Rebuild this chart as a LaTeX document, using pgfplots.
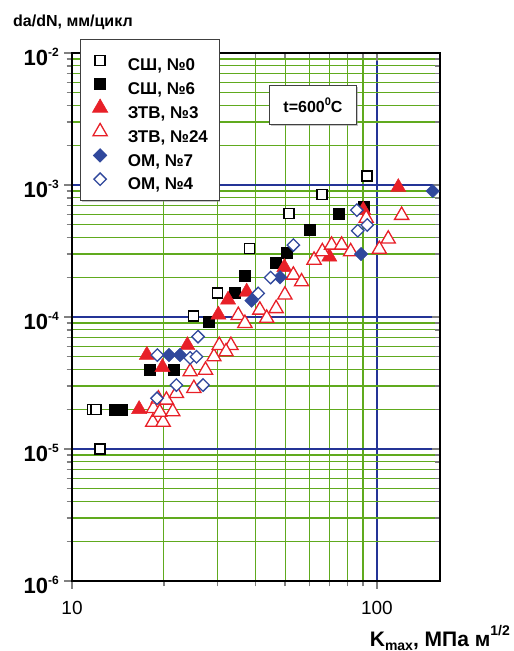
\documentclass[border=0pt]{standalone}
\usepackage{pgfplots}
\pgfplotsset{compat=1.18}
\usepackage{pgfplotstable}
\usepackage{fontspec}
\setmainfont{Liberation Sans}
\usetikzlibrary{shadows}
\definecolor{gridgreen}{RGB}{96,170,30}
\definecolor{gridblue}{RGB}{36,52,150}
\definecolor{mred}{RGB}{232,32,40}
\definecolor{mblue}{RGB}{48,72,156}
\newcommand{\ylab}[1]{\fontsize{22}{22}\selectfont\bfseries 10\raisebox{9pt}{\fontsize{12}{12}\selectfont #1}}
\pgfplotsset{
  every axis grid/.style={line width=1.2pt},
  every major grid/.style={color=gridblue},
  every minor grid/.style={color=gridgreen},
}

\pgfplotstableread{
K v
11.7 2.0e-5
12.0 2.0e-5
12.35 1.0e-5
25.0 1.02e-4
30.0 1.52e-4
38.3 3.3e-4
51.5 6.1e-4
66.0 8.5e-4
92.7 1.17e-3
}\sqA
\pgfplotstableread{
K v
13.8 2.0e-5
14.6 2.0e-5
18.0 4.0e-5
21.6 4.0e-5
28.0 9.2e-5
34.2 1.53e-4
36.9 2.05e-4
46.5 2.58e-4
50.6 3.07e-4
60.3 4.56e-4
74.7 6.1e-4
90.6 6.8e-4
}\sqB
\pgfplotstableread{
K v
16.6 2.0e-5
17.6 5.15e-5
19.8 4.16e-5
23.9 6.1e-5
30.2 1.04e-4
32.5 1.35e-4
37.4 1.55e-4
49.7 2.38e-4
69.8 2.86e-4
90.2 6.45e-4
117.5 9.6e-4
}\trA
\pgfplotstableread{
K v
18.4 1.6e-5
19.9 1.6e-5
18.5 2.03e-5
19.4 1.9e-5
19.2 2.4e-5
20.4 2.35e-5
21.4 1.92e-5
22.0 2.64e-5
24.4 3.85e-5
25.1 2.88e-5
27.4 3.96e-5
29.2 5.0e-5
30.4 6.1e-5
33.2 6.1e-5
32.0 5.46e-5
35.1 1.03e-4
36.9 8.96e-5
41.3 1.13e-4
43.5 9.8e-5
46.7 1.16e-4
49.9 1.47e-4
53.2 2.08e-4
56.6 1.85e-4
62.2 2.7e-4
66.2 3.13e-4
71.0 3.51e-4
76.6 3.51e-4
82.0 3.13e-4
92.2 5.6e-4
101.8 3.26e-4
108.9 3.9e-4
120.5 5.9e-4
}\trB
\pgfplotstableread{
K v
20.8 5.15e-5
22.6 5.15e-5
38.8 1.33e-4
48.1 2.0e-4
88.7 3.0e-4
152.3 9.0e-4
}\dmA
\pgfplotstableread{
K v
19.0 2.42e-5
19.05 5.15e-5
22.0 3.05e-5
26.9 3.05e-5
24.4 4.9e-5
25.6 5.0e-5
25.9 7.1e-5
40.8 1.51e-4
44.8 1.99e-4
53.2 3.51e-4
85.9 6.45e-4
86.5 4.5e-4
92.9 4.98e-4
}\dmB

\begin{document}
\begin{tikzpicture}
\path[use as bounding box] (-72pt,-70pt) rectangle (442pt,581pt);
% outside ticks and labels on bottom and left
\begin{axis}[
  at={(0pt,0pt)}, anchor=south west,
  scale only axis, width=368pt, height=528pt,
  xmode=log, ymode=log,
  xmin=10, xmax=161, ymin=1e-6, ymax=1e-2,
  xtick={10,100},
  minor xtick={20,30,40,50,60,70,80,90},
  ytick={1e-6,1e-5,1e-4,1e-3,1e-2},
  minor ytick={2e-6,3e-6,4e-6,5e-6,6e-6,7e-6,8e-6,9e-6,
               2e-5,3e-5,4e-5,5e-5,6e-5,7e-5,8e-5,9e-5,
               2e-4,3e-4,4e-4,5e-4,6e-4,7e-4,8e-4,9e-4,
               2e-3,3e-3,4e-3,5e-3,6e-3,7e-3,8e-3,9e-3},
  axis line style={-, line width=2.2pt},
  major tick length=8pt, minor tick length=5.5pt,
  tick style={line width=1.5pt},
  axis x line*=bottom, axis y line*=left,
  tick align=outside,
  xticklabels={10,100},
  yticklabels={\ylab{-6},\ylab{-5},\ylab{-4},\ylab{-3},\ylab{-2}},
  xticklabel style={font=\fontsize{19}{19}\selectfont, inner sep=0pt, anchor=north, yshift=-12pt},
  yticklabel style={inner sep=0pt, anchor=east, xshift=-5pt, yshift=-4pt},
]
\end{axis}
% grid, data, inside ticks on top and right, legend
\begin{axis}[
  at={(0pt,0pt)}, anchor=south west,
  scale only axis, width=368pt, height=528pt,
  xmode=log, ymode=log,
  xmin=10, xmax=161, ymin=1e-6, ymax=1e-2,
  xtick={10,100},
  minor xtick={20,30,40,50,60,70,80,90},
  ytick={1e-6,1e-5,1e-4,1e-3,1e-2},
  minor ytick={2e-6,3e-6,4e-6,5e-6,6e-6,7e-6,8e-6,9e-6,
               2e-5,3e-5,4e-5,5e-5,6e-5,7e-5,8e-5,9e-5,
               2e-4,3e-4,4e-4,5e-4,6e-4,7e-4,8e-4,9e-4,
               2e-3,3e-3,4e-3,5e-3,6e-3,7e-3,8e-3,9e-3},
  axis line style={-, line width=2.2pt},
  major tick length=8pt, minor tick length=5.5pt,
  tick style={line width=1.5pt},
  xmajorgrids=true, xminorgrids=true, ymajorgrids=true, yminorgrids=true,
  tick align=inside, xtick pos=right, ytick pos=right,
  xticklabels={}, yticklabels={},
  legend style={at={(0.0217,1.0265)}, anchor=north west,
    draw=black!75, line width=0.6pt, fill=white,
    drop shadow={shadow xshift=1.5pt, shadow yshift=-1.5pt, fill=black!45},
    font=\fontsize{17}{17}\selectfont\bfseries,
    inner xsep=11pt, inner ysep=9pt, row sep=0pt,
    nodes={inner sep=0pt, text height=22.5pt, text depth=1.3pt},
    /tikz/every odd column/.append style={column sep=19pt}},
  legend cell align=left,
  legend image code/.code={\path (0cm,0cm) (0.6cm,0cm); \draw[#1] plot coordinates {(0.3cm,0pt)};},
]
\addplot[only marks, mark=square*, mark size=5pt, mark options={draw=black, fill=white, line width=1.3pt}] table[x=K,y=v] {\sqA};
\addlegendentry{СШ, №0}
\addplot[only marks, mark=square*, mark size=5.5pt, mark options={draw=black, fill=black}] table[x=K,y=v] {\sqB};
\addlegendentry{СШ, №6}
\addplot[only marks, mark=triangle*, mark size=8.8pt, mark options={draw=mred, fill=mred}] table[x=K,y=v] {\trA};
\addlegendentry{ЗТВ, №3}
\addplot[only marks, mark=triangle*, mark size=8.2pt, mark options={draw=mred, fill=white, line width=1.3pt}] table[x=K,y=v] {\trB};
\addlegendentry{ЗТВ, №24}
\addplot[only marks, mark=square*, mark size=4.8pt, mark options={rotate=45, draw=mblue, fill=mblue}] table[x=K,y=v] {\dmA};
\addlegendentry{ОМ, №7}
\addplot[only marks, mark=square*, mark size=4.4pt, mark options={rotate=45, draw=mblue, fill=white, line width=1.3pt}] table[x=K,y=v] {\dmB};
\addlegendentry{ОМ, №4}
\end{axis}
\node[anchor=base west, inner sep=0pt, font=\fontsize{16}{16}\selectfont\bfseries] at (-59pt,554pt) {da/dN, мм/цикл};
\node[anchor=north east, inner sep=0pt, font=\fontsize{21}{21}\selectfont\bfseries] at (438pt,-44pt)
  {K\raisebox{-4pt}{\fontsize{14}{14}\selectfont max}, МПа м\raisebox{11pt}{\fontsize{14}{14}\selectfont 1/2}};
\node[draw=black!75, line width=0.6pt, fill=white, minimum width=87pt, minimum height=39pt,
  drop shadow={shadow xshift=1.5pt, shadow yshift=-1.5pt, fill=black!45},
  font=\fontsize{16}{16}\selectfont\bfseries] at (241pt,476pt)
  {t=600\raisebox{7pt}{\fontsize{11}{11}\selectfont 0}C};
\end{tikzpicture}
\end{document}
